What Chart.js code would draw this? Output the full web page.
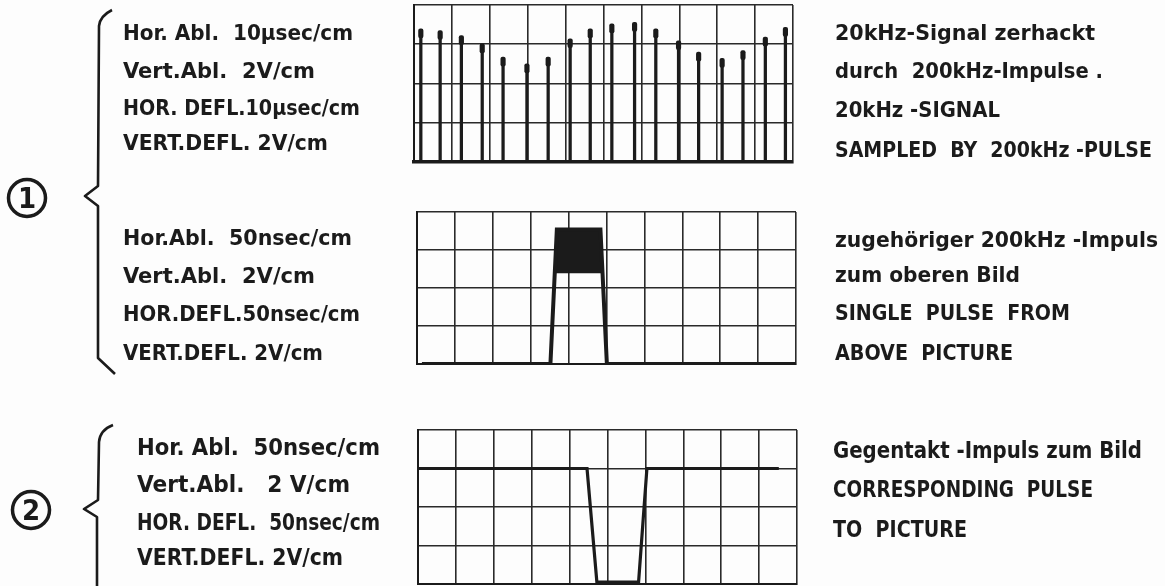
<!DOCTYPE html>
<html>
<head>
<meta charset="utf-8">
<script src="https://cdn.jsdelivr.net/npm/chart.js@4.4.1/dist/chart.umd.min.js"></script>
<style>
    html, body { margin: 0; padding: 0; background: #fdfdfd; }
    body { width: 1165px; height: 586px; position: relative; overflow: hidden; }
    .panel { position: absolute; }
    svg { position: absolute; left: 0; top: 0; }
    svg text { font-family: "DejaVu Sans Condensed", "DejaVu Sans", sans-serif; font-weight: bold; fill: #1b1b1b; white-space: pre; }
</style>
</head>
<body>

<div class="panel" style="left:411px; top:2px; width:385px; height:163px;"><canvas id="panel1"></canvas></div>
<div class="panel" style="left:414px; top:209px; width:385px; height:158px;"><canvas id="panel2"></canvas></div>
<div class="panel" style="left:415px; top:427px; width:385px; height:160px;"><canvas id="panel3"></canvas></div>

<svg id="notes" width="1165" height="586"></svg>

<script>
// oben: 20 kHz Signal, abgetastet (Position in cm, Höhe in cm)
const spikeX = [0.18, 0.69, 1.25, 1.80, 2.35, 2.98, 3.54, 4.12, 4.65, 5.22, 5.82, 6.38, 6.98, 7.51, 8.13, 8.68, 9.27, 9.80];
const spikeY = [3.36, 3.32, 3.19, 2.98, 2.64, 2.47, 2.64, 3.11, 3.36, 3.49, 3.53, 3.36, 3.06, 2.77, 2.61, 2.81, 3.15, 3.40];

// Mitte: einzelner 200 kHz Impuls
const pulseX = [0.13, 3.52, 3.69, 4.84, 5.01, 10];
const pulseY = [0, 0, 3.54, 3.54, 0, 0];
const pulseTopX = [3.63, 3.69, 4.84, 4.90];
const pulseTopY = [2.39, 3.54, 3.54, 2.39];

// unten: Gegentakt-Impuls
const counterX = [0, 4.46, 4.72, 5.82, 6.04, 9.52];
const counterY = [3, 3, 0.05, 0.05, 3, 3];

// Beschriftung
const leftText1 = ['Hor. Abl.  10µsec/cm', 'Vert.Abl.  2V/cm', 'HOR. DEFL.10µsec/cm', 'VERT.DEFL. 2V/cm'];
const leftText2 = ['Hor.Abl.  50nsec/cm', 'Vert.Abl.  2V/cm', 'HOR.DEFL.50nsec/cm', 'VERT.DEFL. 2V/cm'];
const leftText3 = ['Hor. Abl.  50nsec/cm', 'Vert.Abl.   2 V/cm', 'HOR. DEFL.  50nsec/cm', 'VERT.DEFL. 2V/cm'];
const rightText1 = ['20kHz-Signal zerhackt', 'durch  200kHz-Impulse .', '20kHz -SIGNAL', 'SAMPLED  BY  200kHz -PULSE'];
const rightText2 = ['zugehöriger 200kHz -Impuls', 'zum oberen Bild', 'SINGLE  PULSE  FROM', 'ABOVE  PICTURE'];
const rightText3 = ['Gegentakt -Impuls zum Bild', 'CORRESPONDING  PULSE', 'TO  PICTURE'];

const INK = '#1b1b1b';
const GRID = '#2a2a2a';

function gridScales(bottomWidth) {
    return {
        x: {
            type: 'linear', min: 0, max: 10, offset: false,
            ticks: { display: false, stepSize: 1 },
            grid: { color: GRID, lineWidth: 1.6, drawTicks: false, offset: false },
            border: { color: INK, width: bottomWidth }
        },
        y: {
            min: 0, max: 4,
            ticks: { display: false, stepSize: 1 },
            grid: { color: GRID, lineWidth: 1.6, drawTicks: false },
            border: { color: INK, width: 2 }
        }
    };
}

const baseOptions = (bottomWidth) => ({
    responsive: true,
    maintainAspectRatio: false,
    animation: false,
    layout: { padding: 3 },
    plugins: { legend: { display: false }, tooltip: { enabled: false } },
    scales: gridScales(bottomWidth)
});

function xy(xs, ys) {
    return xs.map((x, i) => ({ x: x, y: ys[i] }));
}

// Panel 1 - Nadeln als Balken, Köpfe als schwebende Balken
new Chart(document.getElementById('panel1'), {
    type: 'bar',
    data: {
        datasets: [
            {
                data: xy(spikeX, spikeY),
                backgroundColor: INK,
                barThickness: 2.6,
                grouped: false
            },
            {
                data: spikeX.map((x, i) => ({ x: x, y: [spikeY[i] - 0.2, spikeY[i] + 0.03] })),
                backgroundColor: INK,
                barThickness: 4.5,
                borderRadius: 2,
                borderSkipped: false,
                grouped: false
            }
        ]
    },
    options: baseOptions(3.5)
});

// Panel 2 - Impuls mit dunklem Dach
new Chart(document.getElementById('panel2'), {
    type: 'line',
    data: {
        datasets: [
            {
                data: xy(pulseX, pulseY),
                borderColor: INK,
                borderWidth: 4,
                pointRadius: 0,
                tension: 0
            },
            {
                data: xy(pulseTopX, pulseTopY),
                borderColor: INK,
                backgroundColor: INK,
                borderWidth: 1,
                pointRadius: 0,
                fill: { value: 2.39 },
                tension: 0
            }
        ]
    },
    options: baseOptions(2)
});

// Panel 3 - Gegentakt
new Chart(document.getElementById('panel3'), {
    type: 'line',
    data: {
        datasets: [{
            data: xy(counterX, counterY),
            borderColor: INK,
            borderWidth: 3.2,
            pointRadius: 0,
            tension: 0
        }]
    },
    options: baseOptions(2)
});

// Text und Klammern
const svg = document.getElementById('notes');
const NS = 'http://www.w3.org/2000/svg';

function addLines(lines, x, baselines, ends, size) {
    lines.forEach((t, i) => {
        const el = document.createElementNS(NS, 'text');
        el.setAttribute('x', x);
        el.setAttribute('y', baselines[i]);
        el.setAttribute('font-size', size);
        el.setAttribute('textLength', ends[i] - x);
        el.setAttribute('lengthAdjust', 'spacingAndGlyphs');
        el.textContent = t;
        svg.appendChild(el);
    });
}

addLines(leftText1, 123, [40, 78, 115, 150], [353, 315, 360, 328], 22);
addLines(leftText2, 123, [245, 283, 321, 360], [352, 315, 360, 323], 22);
addLines(leftText3, 137, [455, 492, 530, 565], [380, 350, 380, 343], 23);
addLines(rightText1, 835, [40, 78, 117, 157], [1095, 1103, 1000, 1152], 22);
addLines(rightText2, 835, [247, 282, 320, 360], [1158, 1020, 1070, 1013], 22);
addLines(rightText3, 833, [458, 497, 537], [1142, 1093, 967], 23);

function addPath(d) {
    const p = document.createElementNS(NS, 'path');
    p.setAttribute('d', d);
    p.setAttribute('fill', 'none');
    p.setAttribute('stroke', INK);
    p.setAttribute('stroke-width', 2.6);
    p.setAttribute('stroke-linejoin', 'round');
    svg.appendChild(p);
}

addPath('M112,10 Q100,16 99,26 L98,186 L85,196 L98,206 L98,358 L115,374');
addPath('M113,425 Q100,430 99,442 L98,500 L84,509 L97,517 L97,586');

function addCircle(cx, cy, label) {
    const c = document.createElementNS(NS, 'circle');
    c.setAttribute('cx', cx);
    c.setAttribute('cy', cy);
    c.setAttribute('r', 18.5);
    c.setAttribute('fill', 'none');
    c.setAttribute('stroke', INK);
    c.setAttribute('stroke-width', 3.5);
    svg.appendChild(c);
    const t = document.createElementNS(NS, 'text');
    t.setAttribute('x', cx);
    t.setAttribute('y', cy + 10);
    t.setAttribute('font-size', 29);
    t.setAttribute('text-anchor', 'middle');
    t.textContent = label;
    svg.appendChild(t);
}

addCircle(27, 198, '1');
addCircle(31, 510, '2');
</script>
</body>
</html>
